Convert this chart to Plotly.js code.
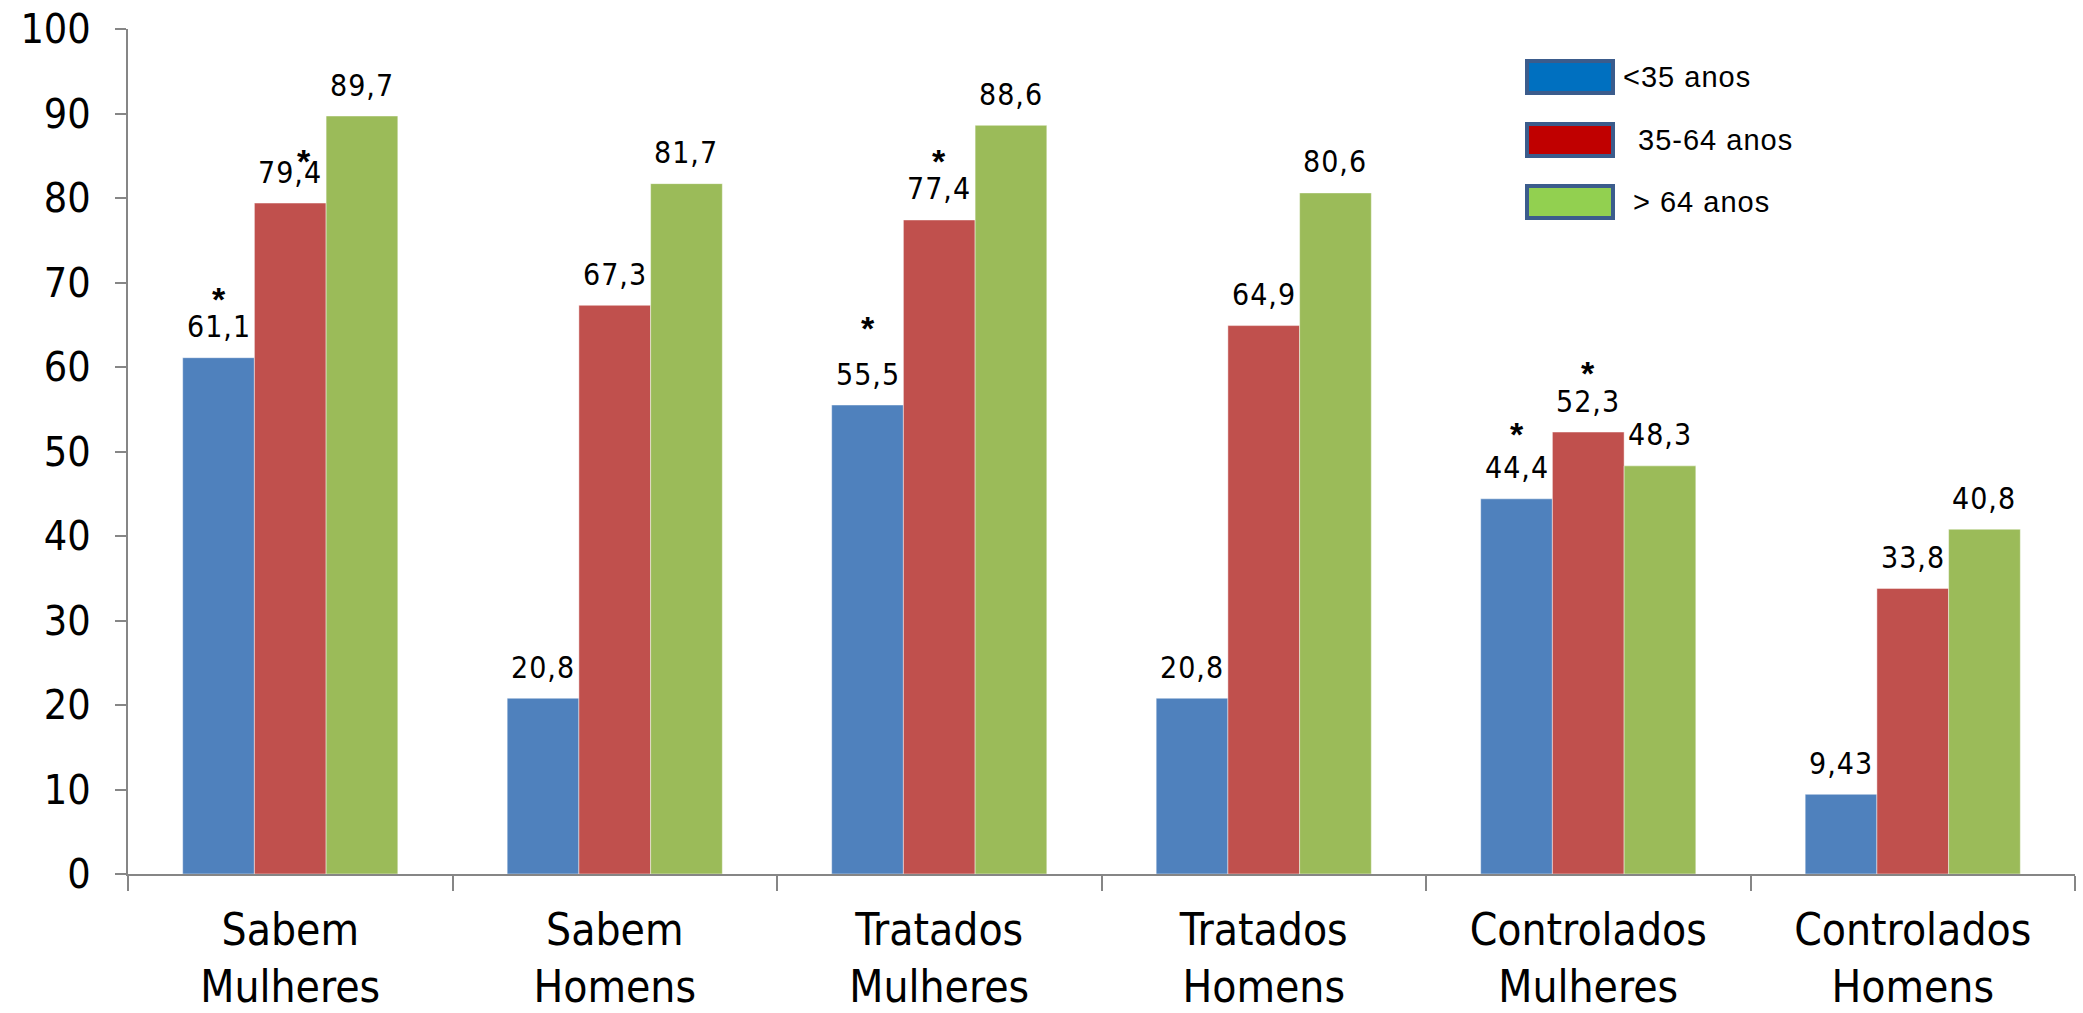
<!DOCTYPE html>
<html>
<head>
<meta charset="utf-8">
<script src="https://cdn.plot.ly/plotly-3.0.1.min.js"></script>
<style>
  html, body { margin: 0; padding: 0; background: #fff; }
  #chart { width: 2083px; height: 1013px; }
  .annotation-text { letter-spacing: 1px; }
</style>
</head>
<body>
<div id="chart"></div>
<script>
// Categories (two-line labels) and the three age groups
const categories = [
  'Sabem<br>Mulheres', 'Sabem<br>Homens',
  'Tratados<br>Mulheres', 'Tratados<br>Homens',
  'Controlados<br>Mulheres', 'Controlados<br>Homens'
];
const seriesNames = ['<35 anos', ' 35-64 anos', '> 64 anos'];

// Percentages per age group
const under35 = [61.1, 20.8, 55.5, 20.8, 44.4, 9.43];
const from35to64 = [79.4, 67.3, 77.4, 64.9, 52.3, 33.8];
const over64 = [89.7, 81.7, 88.6, 80.6, 48.3, 40.8];

// Significance markers (*) per age group
const sigUnder35 = [true, false, true, false, true, false];
const sig35to64 = [true, false, true, false, true, false];
const sigOver64 = [false, false, false, false, false, false];

// ---- styling ----
const barColors = ['#4F81BD', '#C0504D', '#9BBB59'];
const legendFills = ['#0070C0', '#C00000', '#92D050'];
const narrow = '"Liberation Sans Narrow", "DejaVu Sans Condensed", "Arial Narrow", sans-serif';
const M = { l: 128, r: 8, t: 29, b: 139 };
const W = 2083, H = 1013;
const barW = 0.221;                       // bar width in category units
const offsets = [-barW, 0, barW];         // centre of each bar within a group
const labelLift = 31;                     // px from bar top to label centre
// star lift (px above bar top) and horizontal nudge, per age group / category
const starLift = [[68, 0, 86, 0, 74, 0], [51, 0, 68, 0, 68, 0], [0, 0, 0, 0, 0, 0]];
const starNudge = [[0, 0, 0, 0, 0, 0], [14, 0, 0, 0, 0, 0], [0, 0, 0, 0, 0, 0]];

const values = [under35, from35to64, over64];
const sigs = [sigUnder35, sig35to64, sigOver64];

const traces = values.map((vals, s) => ({
  type: 'bar',
  name: seriesNames[s],
  x: categories,
  y: vals,
  marker: { color: barColors[s], line: { color: 'rgba(255,255,255,0.45)', width: 1 } },
  hoverinfo: 'skip',
  showlegend: false
}));

const annotations = [];
values.forEach((vals, s) => {
  vals.forEach((v, i) => {
    annotations.push({
      x: i + offsets[s], y: v, xref: 'x', yref: 'y',
      text: String(v).replace('.', ','),
      showarrow: false, xanchor: 'center', yanchor: 'middle',
      yshift: labelLift,
      font: { family: narrow, size: 30, color: '#000' }
    });
    if (sigs[s][i]) {
      annotations.push({
        x: i + offsets[s], y: v, xref: 'x', yref: 'y',
        text: '<b>*</b>',
        showarrow: false, xanchor: 'center', yanchor: 'middle',
        yshift: starLift[s][i] - 9, xshift: starNudge[s][i],
        font: { family: '"Liberation Sans", Arial, sans-serif', size: 34, color: '#000' }
      });
    }
  });
});

// Legend drawn as framed swatches with labels
const px2x = px => (px - M.l) / (W - M.l - M.r);
const py2y = py => (H - M.b - py) / (H - M.t - M.b);
const legendRows = [77, 140, 202];
const legendTextX = [1621, 1627, 1631];
const shapes = [];
seriesNames.forEach((name, s) => {
  const cy = legendRows[s];
  shapes.push({
    type: 'rect', xref: 'paper', yref: 'paper',
    x0: px2x(1527), x1: px2x(1613), y0: py2y(cy + 16), y1: py2y(cy - 16),
    fillcolor: legendFills[s], line: { color: '#3B5C8C', width: 4 }
  });
  annotations.push({
    xref: 'paper', yref: 'paper', x: px2x(legendTextX[s]), y: py2y(cy),
    text: name.replace('<', '&lt;'), showarrow: false, xanchor: 'left', yanchor: 'middle',
    font: { family: '"Liberation Sans", Arial, sans-serif', size: 29, color: '#000' }
  });
});

const layout = {
  width: W, height: H,
  margin: M,
  paper_bgcolor: '#fff', plot_bgcolor: '#fff',
  barmode: 'group',
  bargap: 1 - 3 * barW,
  bargroupgap: 0,
  showlegend: false,
  xaxis: {
    type: 'category',
    showline: true, linecolor: '#868686', linewidth: 2,
    ticks: 'outside', tickson: 'boundaries', ticklen: 15, tickwidth: 2, tickcolor: '#868686',
    tickfont: { family: narrow, size: 44, color: '#000' },
    ticklabelstandoff: 16,
    showgrid: false, zeroline: false
  },
  yaxis: {
    range: [0, 100], dtick: 10, tick0: 0,
    showline: true, linecolor: '#868686', linewidth: 2,
    ticks: 'outside', ticklen: 11, tickwidth: 2, tickcolor: '#868686',
    tickfont: { family: narrow, size: 41, color: '#000' },
    ticklabelstandoff: 16,
    showgrid: false, zeroline: false
  },
  shapes: shapes,
  annotations: annotations
};

Plotly.newPlot('chart', traces, layout, { displayModeBar: false, staticPlot: true });
</script>
</body>
</html>
